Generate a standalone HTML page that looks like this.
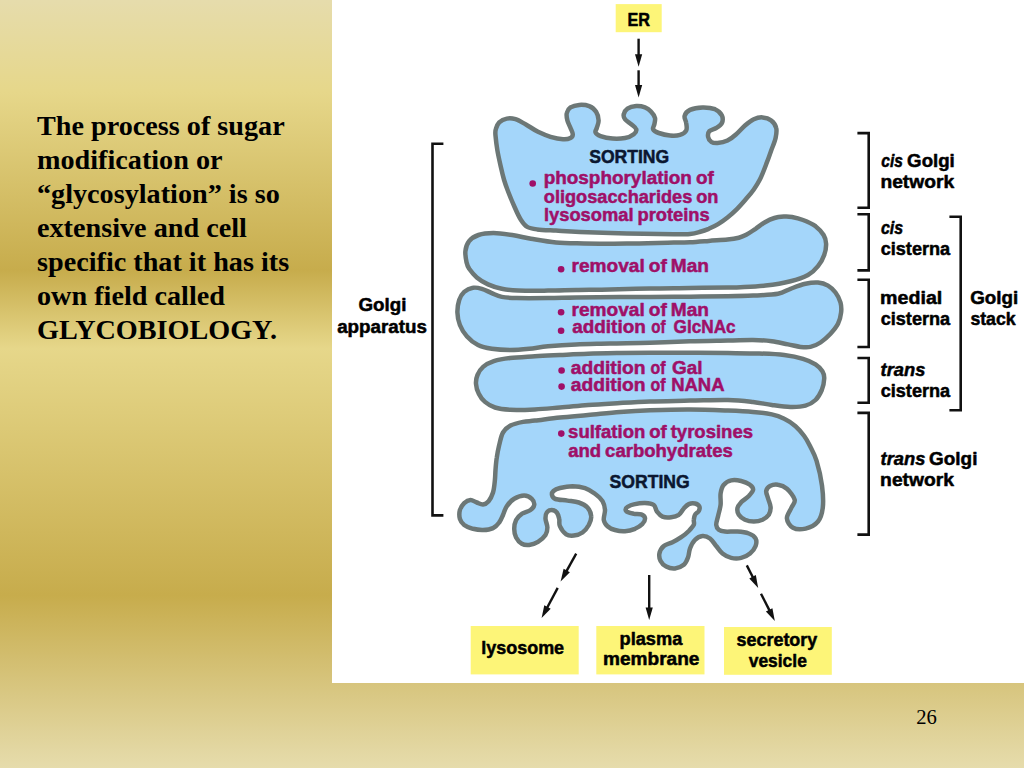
<!DOCTYPE html>
<html><head><meta charset="utf-8"><title>Glycosylation</title>
<style>
html,body{margin:0;padding:0}
body{width:1024px;height:768px;overflow:hidden;position:relative;
background:linear-gradient(to bottom,#e6dcac 0%,#e6d78a 12%,#c7ac4c 35.2%,#e6d78a 45.4%,#c7ac4c 77.5%,#e6dcac 100%);}
#fig{position:absolute;left:332px;top:0;width:692px;height:683px;background:#fff}
#txt{position:absolute;left:37px;top:108.8px;width:290px;margin:0;font:bold 28.2px/34.08px "Liberation Serif",serif;color:#000;white-space:nowrap}
#num{position:absolute;left:916.3px;top:704px;font:20.6px/26px "Liberation Serif",serif;color:#000}
svg{position:absolute;left:0;top:0}
svg text{font-family:"Liberation Sans",sans-serif;font-weight:bold;stroke-width:0.5px;stroke-linejoin:round}
</style></head><body>
<div id="fig"></div>
<p id="txt">The process of sugar<br>modification or<br>“glycosylation” is so<br>extensive and cell<br>specific that it has its<br>own field called<br>GLYCOBIOLOGY.</p>
<div id="num">26</div>
<svg width="1024" height="768" viewBox="0 0 1024 768">
<g fill="#fdf578"><rect x="615.7" y="4.1" width="46" height="28.1"/><rect x="470.7" y="626" width="108" height="48.4"/><rect x="596.3" y="626" width="108.2" height="48.4"/><rect x="724" y="627" width="107.8" height="47.8"/></g>
<g fill="#a4d6fa" stroke="#6c7776" stroke-width="4.5" stroke-linejoin="round"><path d="M495.5 135.5C495.2 132.0 495.1 131.4 495.8 129.2C496.4 127.1 497.4 124.2 499.2 122.4C501.1 120.6 504.0 119.1 506.8 118.6C509.5 118.1 512.4 118.3 515.5 119.2C518.6 120.2 521.8 122.2 525.5 124.2C529.2 126.3 533.8 129.7 538.0 131.8C542.2 133.8 546.3 135.5 550.5 136.8C554.7 138.0 559.7 139.0 563.0 139.2C566.3 139.5 568.9 138.8 570.5 138.0C572.1 137.2 572.8 135.9 572.8 134.2C572.8 132.6 571.4 130.3 570.5 128.0C569.6 125.7 568.0 123.0 567.4 120.5C566.8 118.0 566.2 115.2 566.8 113.0C567.3 110.8 568.4 108.8 570.5 107.4C572.6 106.1 576.1 105.1 579.2 104.9C582.4 104.7 586.4 105.0 589.2 106.1C592.1 107.2 594.5 109.3 596.1 111.8C597.7 114.2 598.5 117.8 598.6 120.5C598.7 123.2 597.3 126.0 596.8 128.0C596.2 130.0 594.9 131.1 595.5 132.4C596.1 133.8 597.7 135.1 600.5 136.1C603.3 137.1 608.4 138.3 612.5 138.6C616.6 138.9 621.5 138.7 625.0 138.0C628.5 137.3 631.9 135.7 633.8 134.2C635.6 132.8 636.7 130.9 636.2 129.2C635.8 127.6 633.1 125.9 631.2 124.2C629.4 122.6 626.2 120.9 625.0 119.2C623.8 117.6 623.3 116.0 623.8 114.2C624.2 112.5 625.4 110.0 627.5 108.6C629.6 107.2 633.3 106.3 636.2 106.1C639.2 105.9 642.5 106.5 645.0 107.4C647.5 108.3 649.6 110.0 651.2 111.8C652.9 113.5 654.5 115.9 655.0 118.0C655.5 120.1 654.7 122.4 654.4 124.2C654.1 126.1 652.4 127.8 653.1 129.2C653.8 130.7 655.9 132.0 658.8 133.0C661.6 134.0 666.5 135.2 670.0 135.5C673.5 135.8 677.3 135.7 680.0 134.9C682.7 134.1 685.2 132.5 686.2 130.5C687.3 128.5 686.5 125.4 686.2 123.0C686.0 120.6 684.0 118.2 684.6 116.0C685.2 113.8 687.0 111.3 690.0 109.9C693.0 108.5 698.3 107.5 702.5 107.4C706.7 107.3 711.8 107.9 715.0 109.2C718.2 110.6 720.8 113.2 721.9 115.5C723.0 117.8 722.8 120.9 721.9 123.0C721.0 125.1 718.3 126.7 716.2 128.0C714.2 129.3 710.8 129.6 709.4 131.1C708.0 132.6 707.8 135.0 708.1 136.8C708.4 138.5 709.7 140.7 711.2 141.8C712.8 142.8 714.8 143.2 717.5 143.0C720.2 142.8 724.4 142.0 727.5 140.5C730.6 139.0 733.3 136.8 736.2 134.2C739.2 131.8 742.1 128.0 745.0 125.5C747.9 123.0 750.8 120.6 753.8 119.2C756.7 117.9 759.6 117.2 762.5 117.4C765.4 117.6 769.0 118.7 771.2 120.5C773.5 122.3 775.5 125.1 776.2 128.0C777.0 130.9 776.4 134.2 775.6 138.0C774.8 141.8 772.8 146.1 771.2 150.5C769.7 154.9 768.1 159.5 766.2 164.2C764.4 169.0 762.1 175.1 760.0 179.2C757.9 183.4 756.0 186.2 753.8 189.4C751.5 192.7 749.1 195.5 746.2 198.8C743.4 202.0 740.0 206.0 736.9 209.1C733.8 212.2 730.6 215.0 727.5 217.5C724.4 220.0 721.2 222.2 718.1 224.1C715.0 226.0 711.9 227.4 708.8 228.8C705.6 230.1 702.5 231.1 699.4 232.0C696.3 232.9 694.3 233.5 690.0 233.9C685.7 234.3 684.3 234.3 673.8 234.2C663.2 234.1 642.5 233.8 626.9 233.4C611.3 233.0 591.8 232.4 580.0 231.9C568.2 231.4 563.1 231.0 556.0 230.6C548.9 230.2 542.0 230.0 537.2 229.4C532.5 228.8 530.0 228.5 527.2 226.9C524.5 225.3 523.1 223.2 521.0 220.0C518.9 216.8 516.8 212.1 514.8 207.5C512.7 202.9 510.3 197.1 508.5 192.5C506.7 187.9 505.3 184.1 504.1 180.0C502.9 175.9 502.2 172.9 501.1 168.0C500.0 163.1 498.3 155.9 497.4 150.5C496.5 145.1 495.8 139.0 495.5 135.5Z"/><path d="M466.6 262.5C466.0 259.6 465.0 254.8 465.4 251.2C465.8 247.7 466.9 244.0 469.1 241.2C471.3 238.5 474.4 236.4 478.5 235.0C482.6 233.6 487.9 233.1 493.5 233.1C499.1 233.1 506.0 234.1 512.2 235.0C518.5 235.9 523.7 237.5 531.0 238.8C538.3 240.0 547.2 241.7 556.0 242.5C564.8 243.3 572.2 243.2 584.0 243.4C595.8 243.6 611.9 243.8 626.9 243.6C641.9 243.4 663.2 242.7 673.8 242.5C684.3 242.3 684.2 242.6 690.0 242.3C695.8 242.0 702.5 241.4 708.8 240.9C715.0 240.4 722.5 240.0 727.5 239.5C732.5 239.0 735.6 238.5 738.8 237.7C741.9 236.9 743.4 236.3 746.2 234.8C749.1 233.3 752.5 230.8 755.6 228.8C758.7 226.7 761.9 224.0 765.0 222.2C768.1 220.4 771.3 218.9 774.4 218.0C777.5 217.1 780.8 216.8 783.8 216.6C786.7 216.4 788.8 216.4 792.0 217.0C795.2 217.6 799.1 218.5 803.0 220.0C806.9 221.5 812.1 223.8 815.5 226.2C818.9 228.8 821.8 232.1 823.6 235.0C825.4 237.9 826.0 240.4 826.1 243.8C826.2 247.1 825.6 251.2 824.2 255.0C822.9 258.8 820.7 262.9 818.0 266.2C815.3 269.6 812.6 272.5 808.0 275.0C803.4 277.5 797.6 279.5 790.5 281.2C783.4 283.0 773.8 284.6 765.5 285.6C757.2 286.6 746.8 286.9 740.5 287.2C734.2 287.6 736.4 287.4 728.0 287.5C719.6 287.6 703.0 287.8 690.0 288.0C677.0 288.2 663.3 288.2 650.0 288.5C636.7 288.8 622.3 289.2 610.0 289.5C597.7 289.8 586.3 289.8 576.0 290.0C565.7 290.2 557.7 290.5 548.0 290.6C538.3 290.7 525.7 290.9 518.0 290.6C510.3 290.3 506.8 289.8 501.8 288.8C496.8 287.7 492.2 286.3 488.0 284.4C483.8 282.5 479.9 280.1 476.8 277.5C473.6 274.9 470.9 271.2 469.2 268.8C467.6 266.2 467.2 265.4 466.6 262.5Z"/><path d="M457.4 312.5C457.3 308.3 458.1 303.4 459.2 300.0C460.4 296.6 462.0 293.9 464.2 291.9C466.5 289.9 470.1 288.3 473.0 287.8C475.9 287.2 478.6 287.9 481.8 288.8C484.9 289.6 488.4 291.7 491.8 293.1C495.1 294.5 497.6 296.1 501.8 296.9C505.9 297.7 509.0 297.9 516.8 298.1C524.5 298.3 538.1 298.2 548.0 298.1C557.9 298.0 564.0 297.7 576.0 297.5C588.0 297.3 607.7 297.1 620.0 297.0C632.3 296.9 638.3 297.1 650.0 297.0C661.7 296.9 677.0 296.8 690.0 296.7C703.0 296.6 717.5 296.4 728.0 296.2C738.5 296.1 744.7 296.0 753.0 295.6C761.3 295.2 771.8 294.9 778.0 293.8C784.2 292.6 785.9 290.4 790.5 288.8C795.1 287.1 800.9 284.8 805.5 283.8C810.1 282.7 814.2 282.2 818.0 282.5C821.8 282.8 825.1 283.9 828.0 285.6C830.9 287.3 833.4 289.7 835.5 292.5C837.6 295.3 839.6 299.2 840.5 302.5C841.4 305.8 841.5 309.0 841.1 312.5C840.7 316.0 839.8 320.2 838.0 323.8C836.2 327.3 833.4 330.6 830.5 333.8C827.6 336.9 823.8 340.3 820.5 342.5C817.2 344.7 813.8 346.2 810.5 346.9C807.2 347.6 804.2 347.3 800.5 346.9C796.8 346.5 792.8 345.3 788.0 344.4C783.2 343.5 777.6 342.0 771.8 341.2C765.9 340.5 760.3 340.1 753.0 340.0C745.7 339.9 738.5 340.4 728.0 340.6C717.5 340.8 703.0 340.9 690.0 341.3C677.0 341.7 663.3 342.4 650.0 342.8C636.7 343.2 622.3 343.3 610.0 343.6C597.7 343.9 586.3 344.0 576.0 344.4C565.7 344.8 555.8 345.5 548.0 346.2C540.2 347.0 535.5 348.1 529.2 348.8C523.0 349.4 516.8 350.0 510.5 350.0C504.2 350.0 497.2 349.6 491.8 348.8C486.3 347.9 482.2 347.1 478.0 345.0C473.8 342.9 469.8 339.6 466.8 336.2C463.7 332.9 461.5 329.0 459.9 325.0C458.3 321.0 457.5 316.7 457.4 312.5Z"/><path d="M476.0 383.8C475.8 380.6 476.3 377.8 477.5 375.0C478.7 372.2 480.4 369.2 483.1 366.9C485.8 364.6 489.3 362.7 493.8 361.2C498.2 359.8 503.1 358.9 510.0 358.1C516.9 357.3 526.7 356.8 535.0 356.2C543.3 355.7 551.2 355.4 560.0 355.0C568.8 354.6 578.0 354.1 588.0 353.8C598.0 353.4 609.7 353.2 620.0 353.0C630.3 352.8 638.3 352.7 650.0 352.7C661.7 352.7 677.0 352.7 690.0 352.8C703.0 352.9 716.5 353.0 728.0 353.1C739.5 353.2 749.9 353.2 759.2 353.5C768.6 353.8 777.0 354.1 784.2 355.0C791.5 355.9 797.8 357.2 803.0 358.8C808.2 360.3 812.3 362.3 815.5 364.4C818.7 366.5 820.9 368.9 822.4 371.2C823.9 373.6 824.4 375.6 824.2 378.8C824.1 381.9 823.2 386.5 821.8 390.0C820.3 393.5 818.2 397.4 815.5 400.0C812.8 402.6 809.7 404.5 805.5 405.6C801.3 406.8 796.1 407.0 790.5 406.9C784.9 406.8 778.0 405.8 771.8 405.0C765.5 404.2 760.3 402.7 753.0 401.9C745.7 401.1 738.5 400.2 728.0 400.0C717.5 399.8 703.0 400.4 690.0 400.6C677.0 400.9 661.7 401.1 650.0 401.5C638.3 401.9 630.3 402.4 620.0 403.0C609.7 403.6 598.0 404.2 588.0 405.0C578.0 405.8 568.8 406.8 560.0 407.5C551.2 408.2 543.3 409.0 535.0 409.4C526.7 409.8 516.7 410.1 510.0 409.8C503.3 409.4 499.2 408.8 495.0 407.5C490.8 406.2 487.7 404.2 485.0 401.9C482.3 399.6 480.2 396.8 478.8 393.8C477.2 390.7 476.2 386.9 476.0 383.8Z"/><path d="M499.2 445.0C500.3 440.8 501.1 435.7 503.0 432.5C504.9 429.3 507.2 427.4 510.5 425.6C513.8 423.8 518.9 422.7 523.0 421.9C527.1 421.1 528.8 421.3 535.0 420.6C541.2 419.9 551.2 418.4 560.0 417.5C568.8 416.6 578.0 415.9 588.0 415.0C598.0 414.1 609.7 412.8 620.0 412.0C630.3 411.2 638.3 410.7 650.0 410.3C661.7 409.9 677.0 409.4 690.0 409.5C703.0 409.6 717.5 410.2 728.0 410.6C738.5 411.0 745.7 411.3 753.0 411.9C760.3 412.5 766.5 413.3 771.8 414.4C777.0 415.5 780.3 416.8 784.2 418.8C788.2 420.7 792.2 423.4 795.5 426.2C798.8 429.1 801.8 432.7 804.2 436.0C806.7 439.3 808.0 441.9 810.0 446.0C812.0 450.1 814.5 454.0 816.5 460.6C818.5 467.2 821.0 477.8 822.0 485.6C823.0 493.4 823.5 501.5 822.8 507.5C822.1 513.5 820.9 518.0 818.0 521.5C815.1 525.0 809.8 527.6 805.6 528.6C801.4 529.6 796.1 529.5 793.0 527.8C789.9 526.1 787.1 521.8 786.9 518.4C786.6 515.0 790.2 510.6 791.5 507.5C792.8 504.4 795.5 502.8 794.7 499.7C793.9 496.6 789.7 491.2 786.9 488.8C784.1 486.3 780.8 485.2 778.0 484.8C775.2 484.3 772.0 485.0 770.0 486.0C768.0 487.0 766.6 488.9 766.2 491.0C765.9 493.1 767.4 495.8 768.1 498.5C768.8 501.2 770.5 504.5 770.6 507.2C770.7 510.0 770.1 512.7 768.8 514.8C767.4 516.8 765.0 518.6 762.5 519.8C760.0 520.9 756.7 521.6 753.8 521.6C750.8 521.6 747.5 520.9 745.0 519.8C742.5 518.6 740.0 516.7 738.8 514.8C737.5 512.8 737.1 510.0 737.5 507.9C737.9 505.8 739.4 504.2 741.2 502.2C743.1 500.3 746.8 498.1 748.8 496.0C750.7 493.9 752.9 491.6 753.1 489.8C753.3 487.9 752.0 486.2 750.0 484.8C748.0 483.3 744.4 481.7 741.2 481.0C738.1 480.3 734.2 479.8 731.2 480.4C728.3 481.0 725.5 482.6 723.8 484.8C722.0 486.9 721.1 490.2 720.6 493.5C720.1 496.8 721.0 501.0 720.6 504.8C720.2 508.5 718.8 512.7 718.1 516.0C717.4 519.3 716.1 522.5 716.2 524.8C716.4 527.0 717.3 528.6 718.8 529.8C720.2 530.9 721.9 531.3 725.0 531.6C728.1 531.9 733.5 531.3 737.5 531.6C741.5 531.9 745.7 532.4 748.8 533.5C751.8 534.6 754.5 536.4 755.6 538.5C756.7 540.6 756.5 543.5 755.6 546.0C754.7 548.5 752.4 551.5 750.0 553.5C747.6 555.5 744.4 557.2 741.2 557.9C738.1 558.6 734.4 558.6 731.2 557.9C728.1 557.2 725.0 555.5 722.5 553.5C720.0 551.5 718.3 548.5 716.2 546.0C714.2 543.5 712.3 540.2 710.0 538.5C707.7 536.8 705.0 535.8 702.5 536.0C700.0 536.2 697.1 537.7 695.0 539.8C692.9 541.8 691.1 545.6 690.0 548.5C688.9 551.4 689.1 554.5 688.1 557.2C687.1 560.0 685.9 562.9 683.8 564.8C681.6 566.6 677.9 568.2 675.0 568.5C672.1 568.8 668.6 567.9 666.2 566.6C663.9 565.4 661.7 563.2 660.6 561.0C659.5 558.8 658.9 556.0 659.4 553.5C659.9 551.0 661.6 547.9 663.8 546.0C665.9 544.1 669.6 543.7 672.5 542.2C675.4 540.8 678.5 539.1 681.2 537.2C684.0 535.4 686.7 533.1 688.8 531.0C690.8 528.9 692.9 526.6 693.8 524.8C694.6 522.9 693.5 521.4 693.8 519.8C694.0 518.1 694.2 516.2 695.0 514.8C695.8 513.3 698.0 512.4 698.8 511.0C699.5 509.6 700.0 507.9 699.4 506.6C698.8 505.4 696.8 503.9 695.0 503.5C693.2 503.1 690.6 503.3 688.8 504.1C686.9 504.9 685.4 506.7 683.8 508.5C682.1 510.3 680.8 513.3 678.8 514.8C676.7 516.2 674.0 516.9 671.2 517.2C668.5 517.6 664.9 517.6 662.5 516.6C660.1 515.6 658.4 513.4 656.9 511.5C655.4 509.6 655.7 506.4 653.8 505.0C651.8 503.6 648.3 503.2 645.0 503.1C641.7 503.0 636.7 503.8 633.8 504.4C630.8 505.0 628.9 506.1 627.5 506.9C626.1 507.7 625.6 508.6 625.6 509.4C625.6 510.2 626.1 511.2 627.5 511.9C628.9 512.6 631.5 513.3 633.8 513.8C636.0 514.2 639.4 513.7 641.2 514.4C643.1 515.1 644.8 516.5 645.0 518.1C645.2 519.7 644.2 522.0 642.5 523.8C640.8 525.5 637.9 527.5 635.0 528.8C632.1 530.0 628.3 531.0 625.0 531.2C621.7 531.5 617.9 530.8 615.0 530.0C612.1 529.2 609.4 527.9 607.5 526.2C605.6 524.6 604.2 522.7 603.8 520.0C603.3 517.3 605.2 513.1 605.0 510.0C604.8 506.9 604.2 504.0 602.5 501.2C600.8 498.5 597.9 495.9 595.0 493.8C592.1 491.6 588.8 489.4 585.0 488.1C581.2 486.9 576.7 486.3 572.5 486.2C568.3 486.2 563.2 487.2 560.0 488.0C556.8 488.8 554.8 489.8 553.5 491.0C552.2 492.2 551.7 493.7 552.0 495.0C552.3 496.3 552.9 498.1 555.5 499.0C558.1 499.9 563.6 500.0 567.5 500.6C571.4 501.2 575.4 501.4 578.8 502.5C582.1 503.6 585.4 505.2 587.5 507.5C589.6 509.8 591.0 513.3 591.2 516.2C591.5 519.2 590.2 522.3 588.8 525.0C587.3 527.7 585.0 530.7 582.5 532.5C580.0 534.3 576.5 535.3 573.8 535.6C571.0 535.9 568.6 536.0 566.2 534.4C563.9 532.8 561.1 528.9 559.9 526.2C558.7 523.6 559.8 521.0 559.2 518.8C558.7 516.5 558.0 514.0 556.8 512.5C555.5 511.0 553.4 510.0 551.8 510.0C550.1 510.0 547.8 511.0 546.8 512.5C545.7 514.0 545.4 516.2 545.5 518.8C545.6 521.2 547.4 524.8 547.4 527.5C547.4 530.2 547.1 532.6 545.5 535.0C543.9 537.4 540.7 540.2 538.0 541.9C535.3 543.6 532.0 544.7 529.2 545.0C526.5 545.3 523.9 545.0 521.8 543.8C519.6 542.5 517.4 540.0 516.1 537.5C514.9 535.0 514.2 531.7 514.2 528.8C514.2 525.8 514.9 522.5 516.1 520.0C517.4 517.5 519.4 515.4 521.8 513.8C524.1 512.1 528.4 511.5 530.5 510.0C532.6 508.5 534.0 506.9 534.2 505.0C534.5 503.1 533.4 500.3 531.8 498.8C530.1 497.2 527.2 495.6 524.2 495.6C521.3 495.6 517.2 497.0 514.2 498.8C511.3 500.5 508.6 503.5 506.8 506.2C504.9 509.0 504.2 512.3 503.0 515.0C501.8 517.7 500.9 520.3 499.2 522.5C497.6 524.7 495.7 526.9 493.0 528.1C490.3 529.4 486.3 529.9 483.0 530.0C479.7 530.1 476.1 529.6 473.0 528.8C469.9 527.9 466.4 526.7 464.2 525.0C462.1 523.3 460.6 521.2 459.9 518.8C459.2 516.2 459.2 512.6 459.9 510.0C460.6 507.4 462.5 504.8 464.2 503.1C466.0 501.4 468.4 500.1 470.5 500.0C472.6 499.9 474.7 501.8 476.8 502.5C478.8 503.2 481.0 504.6 483.0 504.4C485.0 504.2 486.9 503.2 488.6 501.2C490.3 499.3 491.9 496.0 493.0 492.5C494.1 489.0 494.5 483.8 494.9 480.0C495.3 476.2 495.2 473.8 495.5 470.0C495.8 466.2 496.1 461.7 496.8 457.5C497.4 453.3 498.2 449.2 499.2 445.0Z"/></g>
<g fill="none" stroke="#111" stroke-width="2.6"><path d="M443.4 143.7H432.5V515.4H443.4"/><path d="M857.4 133.1H868.7V207.7H857.4"/><path d="M857.4 214.3H868.7V270.4H857.4"/><path d="M857.4 279.8H868.7V347.0H857.4"/><path d="M857.4 358.0H868.7V402.7H857.4"/><path d="M857.4 412.9H868.7V534.6H857.4"/><path d="M949.4 216.8H960.7V410.2H949.4"/></g>
<line x1="638.6" y1="38.7" x2="638.6" y2="56.3" stroke="#111" stroke-width="2.4"/><polygon points="638.6,66.8 635.0,54.3 642.2,54.3" fill="#111"/><line x1="638.6" y1="70.3" x2="638.6" y2="86.9" stroke="#111" stroke-width="2.4"/><polygon points="638.6,97.4 635.0,84.9 642.2,84.9" fill="#111"/><line x1="576.2" y1="553.7" x2="565.8" y2="572.3" stroke="#111" stroke-width="2.4"/><polygon points="560.6,581.4 563.6,568.7 569.9,572.3" fill="#111"/><line x1="557.7" y1="587.9" x2="546.6" y2="608.7" stroke="#111" stroke-width="2.4"/><polygon points="541.6,618.0 544.3,605.3 550.7,608.7" fill="#111"/><line x1="649.2" y1="575.0" x2="649.2" y2="609.5" stroke="#111" stroke-width="2.4"/><polygon points="649.2,620.0 645.6,607.5 652.8,607.5" fill="#111"/><line x1="746.8" y1="565.4" x2="753.5" y2="578.5" stroke="#111" stroke-width="2.4"/><polygon points="758.2,587.9 749.3,578.4 755.8,575.1" fill="#111"/><line x1="761.0" y1="593.7" x2="770.1" y2="611.6" stroke="#111" stroke-width="2.4"/><polygon points="774.8,621.0 765.9,611.5 772.4,608.2" fill="#111"/>
<g fill="#9f1068"><circle cx="532.7" cy="183.5" r="3.3"/><circle cx="561.1" cy="269.2" r="3.3"/><circle cx="561.1" cy="312.3" r="3.3"/><circle cx="561.1" cy="330.7" r="3.3"/><circle cx="561.6" cy="370.5" r="3.3"/><circle cx="561.6" cy="386.6" r="3.3"/><circle cx="561.3" cy="433.6" r="3.3"/></g>
<text x="627.52" y="25.50" textLength="22.52" lengthAdjust="spacingAndGlyphs" fill="#000" stroke="#000" font-size="18" word-spacing="-1.17">ER</text>
<text x="589.19" y="162.60" textLength="79.99" lengthAdjust="spacingAndGlyphs" fill="#0b1730" stroke="#0b1730" font-size="18" word-spacing="-1.17">SORTING</text>
<text x="609.59" y="487.50" textLength="80.20" lengthAdjust="spacingAndGlyphs" fill="#0b1730" stroke="#0b1730" font-size="18" word-spacing="-1.17">SORTING</text>
<text x="358.53" y="310.80" textLength="47.90" lengthAdjust="spacingAndGlyphs" fill="#000" stroke="#000" font-size="18" word-spacing="-1.17">Golgi</text>
<text x="337.15" y="332.60" textLength="89.92" lengthAdjust="spacingAndGlyphs" fill="#000" stroke="#000" font-size="18" word-spacing="-1.17">apparatus</text>
<text x="881.22" y="167.20" textLength="21.71" lengthAdjust="spacingAndGlyphs" fill="#000" stroke="#000" font-size="18" word-spacing="-1.17"><tspan font-style="italic">cis</tspan></text>
<text x="907.13" y="167.20" textLength="47.69" lengthAdjust="spacingAndGlyphs" fill="#000" stroke="#000" font-size="18" word-spacing="-1.17">Golgi</text>
<text x="880.43" y="187.90" textLength="73.75" lengthAdjust="spacingAndGlyphs" fill="#000" stroke="#000" font-size="18" word-spacing="-1.17">network</text>
<text x="880.91" y="234.20" textLength="22.34" lengthAdjust="spacingAndGlyphs" fill="#000" stroke="#000" font-size="18" word-spacing="-1.17"><tspan font-style="italic">cis</tspan></text>
<text x="880.69" y="255.10" textLength="69.49" lengthAdjust="spacingAndGlyphs" fill="#000" stroke="#000" font-size="18" word-spacing="-1.17">cisterna</text>
<text x="880.11" y="304.40" textLength="62.18" lengthAdjust="spacingAndGlyphs" fill="#000" stroke="#000" font-size="18" word-spacing="-1.17">medial</text>
<text x="880.69" y="325.30" textLength="69.49" lengthAdjust="spacingAndGlyphs" fill="#000" stroke="#000" font-size="18" word-spacing="-1.17">cisterna</text>
<text x="970.23" y="303.60" textLength="48.00" lengthAdjust="spacingAndGlyphs" fill="#000" stroke="#000" font-size="18" word-spacing="-1.17">Golgi</text>
<text x="970.38" y="324.80" textLength="45.31" lengthAdjust="spacingAndGlyphs" fill="#000" stroke="#000" font-size="18" word-spacing="-1.17">stack</text>
<text x="880.63" y="375.50" textLength="44.80" lengthAdjust="spacingAndGlyphs" fill="#000" stroke="#000" font-size="18" word-spacing="-1.17"><tspan font-style="italic">trans</tspan></text>
<text x="880.69" y="396.60" textLength="69.49" lengthAdjust="spacingAndGlyphs" fill="#000" stroke="#000" font-size="18" word-spacing="-1.17">cisterna</text>
<text x="880.63" y="465.30" textLength="44.80" lengthAdjust="spacingAndGlyphs" fill="#000" stroke="#000" font-size="18" word-spacing="-1.17"><tspan font-style="italic">trans</tspan></text>
<text x="929.12" y="465.30" textLength="48.31" lengthAdjust="spacingAndGlyphs" fill="#000" stroke="#000" font-size="18" word-spacing="-1.17">Golgi</text>
<text x="880.13" y="486.40" textLength="73.85" lengthAdjust="spacingAndGlyphs" fill="#000" stroke="#000" font-size="18" word-spacing="-1.17">network</text>
<text x="481.25" y="654.30" textLength="82.87" lengthAdjust="spacingAndGlyphs" fill="#000" stroke="#000" font-size="18" word-spacing="-1.17">lysosome</text>
<text x="619.50" y="644.50" textLength="62.79" lengthAdjust="spacingAndGlyphs" fill="#000" stroke="#000" font-size="18" word-spacing="-1.17">plasma</text>
<text x="603.04" y="665.00" textLength="96.41" lengthAdjust="spacingAndGlyphs" fill="#000" stroke="#000" font-size="18" word-spacing="-1.17">membrane</text>
<text x="736.47" y="646.40" textLength="80.83" lengthAdjust="spacingAndGlyphs" fill="#000" stroke="#000" font-size="18" word-spacing="-1.17">secretory</text>
<text x="748.73" y="667.00" textLength="58.11" lengthAdjust="spacingAndGlyphs" fill="#000" stroke="#000" font-size="18" word-spacing="-1.17">vesicle</text>
<text x="543.65" y="184.40" textLength="170.11" lengthAdjust="spacingAndGlyphs" fill="#9f1068" stroke="#9f1068" font-size="18" word-spacing="-1.17">phosphorylation of</text>
<text x="543.79" y="202.70" textLength="174.64" lengthAdjust="spacingAndGlyphs" fill="#9f1068" stroke="#9f1068" font-size="18" word-spacing="-1.17">oligosaccharides on</text>
<text x="543.92" y="221.00" textLength="165.83" lengthAdjust="spacingAndGlyphs" fill="#9f1068" stroke="#9f1068" font-size="18" word-spacing="-1.17">lysosomal proteins</text>
<text x="571.54" y="271.70" textLength="137.44" lengthAdjust="spacingAndGlyphs" fill="#9f1068" stroke="#9f1068" font-size="18" word-spacing="-1.17">removal of Man</text>
<text x="571.54" y="315.80" textLength="137.44" lengthAdjust="spacingAndGlyphs" fill="#9f1068" stroke="#9f1068" font-size="18" word-spacing="-1.17">removal of Man</text>
<text x="572.25" y="333.20" textLength="73.53" lengthAdjust="spacingAndGlyphs" fill="#9f1068" stroke="#9f1068" font-size="18" word-spacing="-1.17">addition</text>
<text x="651.21" y="333.20" textLength="14.26" lengthAdjust="spacingAndGlyphs" fill="#9f1068" stroke="#9f1068" font-size="18" word-spacing="-1.17">of</text>
<text x="673.59" y="333.20" textLength="62.11" lengthAdjust="spacingAndGlyphs" fill="#9f1068" stroke="#9f1068" font-size="18" word-spacing="-1.17">GlcNAc</text>
<text x="570.74" y="373.80" textLength="74.86" lengthAdjust="spacingAndGlyphs" fill="#9f1068" stroke="#9f1068" font-size="18" word-spacing="-1.17">addition</text>
<text x="650.58" y="373.80" textLength="14.99" lengthAdjust="spacingAndGlyphs" fill="#9f1068" stroke="#9f1068" font-size="18" word-spacing="-1.17">of</text>
<text x="672.02" y="373.80" textLength="30.52" lengthAdjust="spacingAndGlyphs" fill="#9f1068" stroke="#9f1068" font-size="18" word-spacing="-1.17">Gal</text>
<text x="570.74" y="390.70" textLength="74.86" lengthAdjust="spacingAndGlyphs" fill="#9f1068" stroke="#9f1068" font-size="18" word-spacing="-1.17">addition</text>
<text x="650.58" y="390.70" textLength="14.99" lengthAdjust="spacingAndGlyphs" fill="#9f1068" stroke="#9f1068" font-size="18" word-spacing="-1.17">of</text>
<text x="671.16" y="390.70" textLength="53.42" lengthAdjust="spacingAndGlyphs" fill="#9f1068" stroke="#9f1068" font-size="18" word-spacing="-1.17">NANA</text>
<text x="568.10" y="437.60" textLength="184.96" lengthAdjust="spacingAndGlyphs" fill="#9f1068" stroke="#9f1068" font-size="18" word-spacing="-1.17">sulfation of tyrosines</text>
<text x="568.21" y="457.40" textLength="164.55" lengthAdjust="spacingAndGlyphs" fill="#9f1068" stroke="#9f1068" font-size="18" word-spacing="-1.17">and carbohydrates</text>
</svg>
</body></html>
